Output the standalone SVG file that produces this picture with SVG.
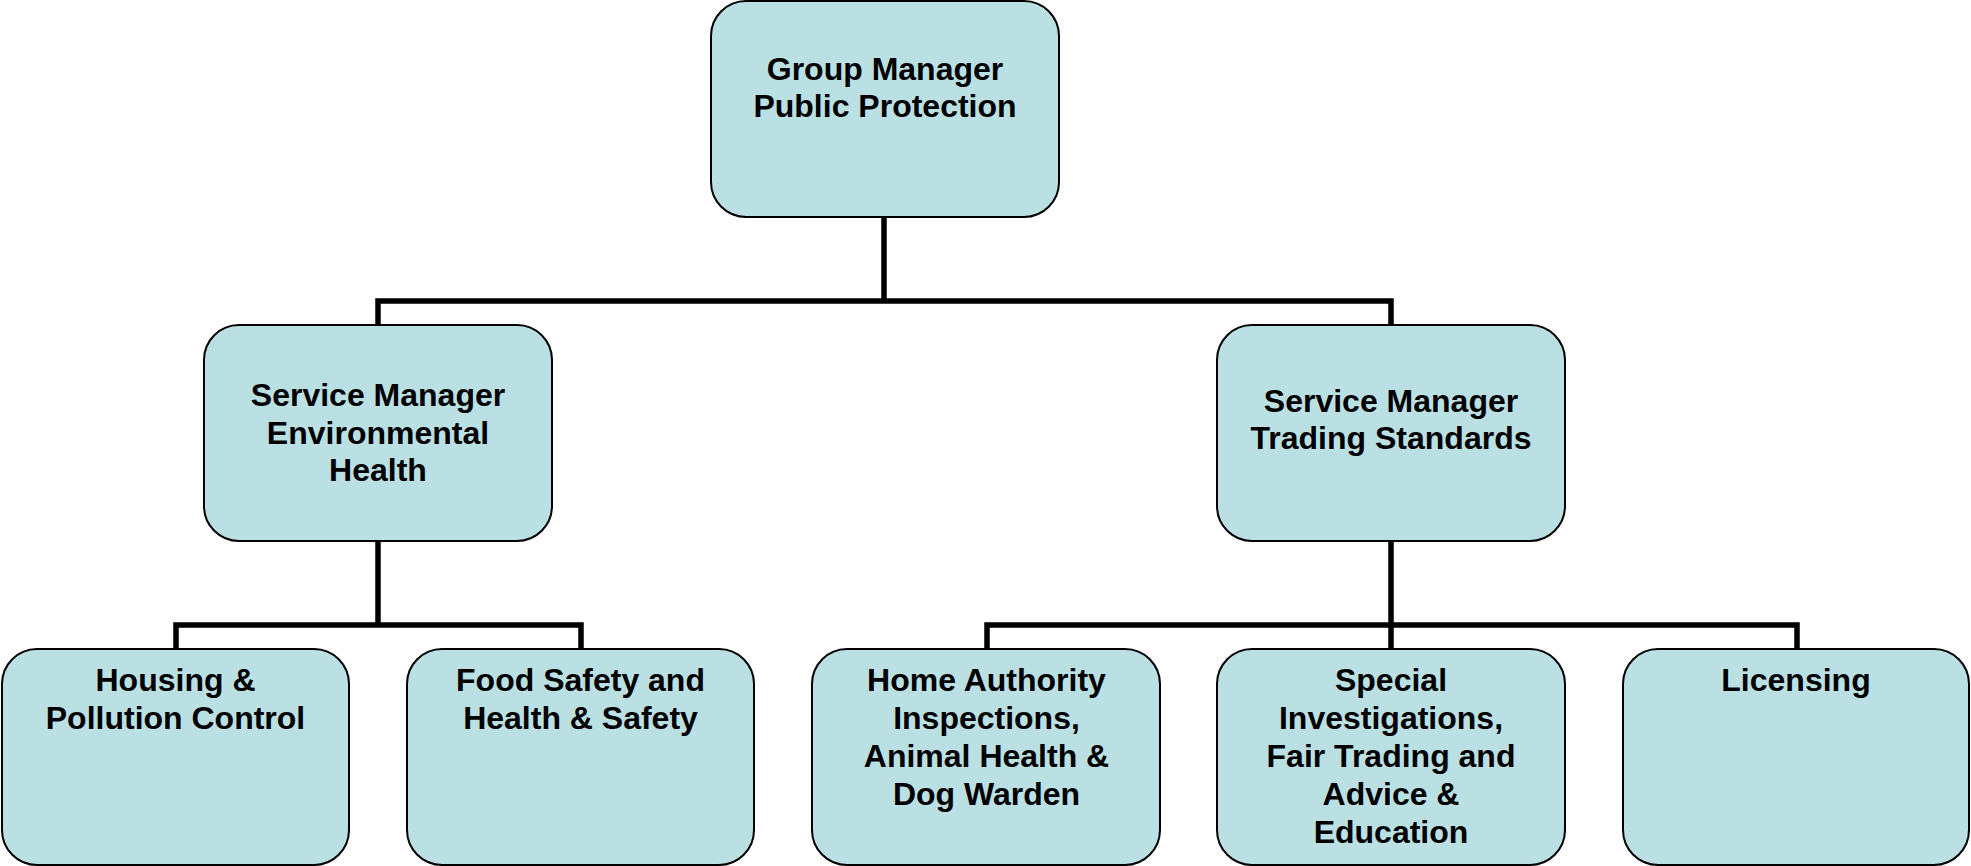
<svg xmlns="http://www.w3.org/2000/svg" width="1971" height="866" viewBox="0 0 1971 866">
<style>
.box{fill:#BAE0E3;stroke:#000;stroke-width:2}
.t{font-family:"Liberation Sans",Arial,sans-serif;font-weight:bold;font-size:32px;fill:#000;text-anchor:middle}
.c{fill:none;stroke:#000;stroke-width:5.5;stroke-linecap:square}
</style>
<rect width="1971" height="866" fill="#fff"/>
<g id="connectors">
<path class="c" d="M884,217 V301 M378,301 H1391 M378,301 V325 M1391,301 V325"/>
<path class="c" d="M378,541 V625 M176,625 H581 M176,625 V649 M581,625 V649"/>
<path class="c" d="M1391,541 V649 M987,625 H1797 M987,625 V649 M1797,625 V649"/>
</g>
<g id="n-group">
<rect class="box" x="711" y="1" width="348" height="216" rx="35"/>
<text class="t" x="885" y="79.5">Group Manager</text>
<text class="t" x="885" y="117">Public Protection</text>
</g>
<g id="n-env">
<rect class="box" x="204" y="325" width="348" height="216" rx="35"/>
<text class="t" x="378" y="406">Service Manager</text>
<text class="t" x="378" y="443.5">Environmental</text>
<text class="t" x="378" y="481">Health</text>
</g>
<g id="n-trading">
<rect class="box" x="1217" y="325" width="348" height="216" rx="35"/>
<text class="t" x="1391" y="411.5">Service Manager</text>
<text class="t" x="1391" y="449">Trading Standards</text>
</g>
<g id="n-housing">
<rect class="box" x="2" y="649" width="347" height="216" rx="35"/>
<text class="t" x="175.5" y="691">Housing &amp;</text>
<text class="t" x="175.5" y="729">Pollution Control</text>
</g>
<g id="n-food">
<rect class="box" x="407" y="649" width="347" height="216" rx="35"/>
<text class="t" x="580.5" y="691">Food Safety and</text>
<text class="t" x="580.5" y="729">Health &amp; Safety</text>
</g>
<g id="n-home">
<rect class="box" x="812" y="649" width="348" height="216" rx="35"/>
<text class="t" x="986.5" y="691">Home Authority</text>
<text class="t" x="986.5" y="729">Inspections,</text>
<text class="t" x="986.5" y="767">Animal Health &amp;</text>
<text class="t" x="986.5" y="805">Dog Warden</text>
</g>
<g id="n-special">
<rect class="box" x="1217" y="649" width="348" height="216" rx="35"/>
<text class="t" x="1391" y="691">Special</text>
<text class="t" x="1391" y="729">Investigations,</text>
<text class="t" x="1391" y="767">Fair Trading and</text>
<text class="t" x="1391" y="805">Advice &amp;</text>
<text class="t" x="1391" y="842.5">Education</text>
</g>
<g id="n-licensing">
<rect class="box" x="1623" y="649" width="346" height="216" rx="35"/>
<text class="t" x="1796" y="691">Licensing</text>
</g>
</svg>
